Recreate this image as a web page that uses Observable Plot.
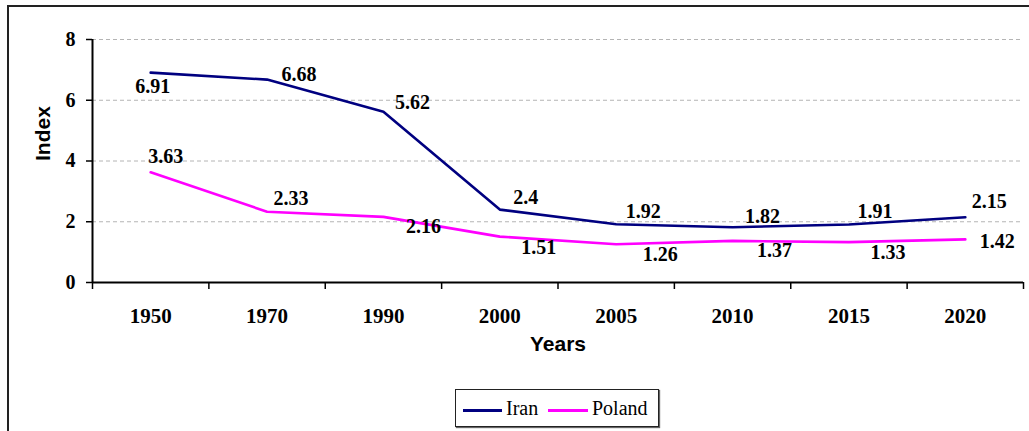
<!DOCTYPE html>
<html>
<head>
<meta charset="utf-8">
<script src="https://cdn.jsdelivr.net/npm/d3@7"></script>
<script src="https://cdn.jsdelivr.net/npm/@observablehq/plot@0.6"></script>
<style>
  html, body { margin: 0; padding: 0; background: #fff; }
  #wrap { position: relative; width: 1029px; height: 431px; overflow: hidden; background: #fff; }
  #frame { position: absolute; left: 7px; top: 5px; width: 1100px; height: 500px;
           border-left: 2px solid #222; border-top: 2px solid #222; box-sizing: border-box; }
  #chart { position: absolute; left: 0; top: 0; }
  #legend { position: absolute; left: 455px; top: 389px; width: 204px; height: 38px; box-sizing: border-box;
            border: 1.5px solid #222; box-shadow: 1px 1px 1px #666; background: #fff;
            font-family: "Liberation Serif", "Times New Roman", serif; font-size: 20px; color: #000; }
  .sw { position: absolute; top: 19px; height: 3px; }
  .lt { position: absolute; top: 7px; line-height: 22px; }
</style>
</head>
<body>
<div id="wrap">
  <div id="frame"></div>
  <div id="chart"></div>
  <div id="legend"></div>
</div>
<script>
// ---- data ----
const years = ["1950", "1970", "1990", "2000", "2005", "2010", "2015", "2020"];
const iran = [6.91, 6.68, 5.62, 2.4, 1.92, 1.82, 1.91, 2.15];
const poland = [3.63, 2.33, 2.16, 1.51, 1.26, 1.37, 1.33, 1.42];
const yTicks = [0, 2, 4, 6, 8];
const seriesNames = ["Iran", "Poland"];
const seriesColors = ["#000080", "#ff00ff"];

// ---- label placement (layout only) ----
const iranDx = [2, 32, 29, 26, 27, 30, 26, 24];
const iranDy = [14, -5, -9, -12, -13, -11, -13, -16];
const polDx = [15, 24, 40, 39, 44, 42, 39, 32];
const polDy = [-16, -13, 10, 11, 10, 10, 10, 2];

const serif = "'Liberation Serif', 'Times New Roman', serif";
const sans = "'Liberation Sans', Arial, sans-serif";

const rows = (vals) => vals.map((v, i) => ({i: i + 0.5, v, year: years[i]}));
const iranRows = rows(iran);
const polRows = rows(poland);

function labelMarks(rs, dxs, dys) {
  return rs.map((r, k) => Plot.text([r], {
    x: "i", y: "v", text: d => String(d.v), dx: dxs[k], dy: dys[k],
    fontFamily: serif, fontSize: 20, fontWeight: "bold", fill: "#000"
  }));
}

const chart = Plot.plot({
  width: 1029,
  height: 431,
  marginLeft: 92,
  marginRight: 6,
  marginTop: 39,
  marginBottom: 149,
  x: {type: "linear", domain: [0, years.length], axis: null},
  y: {domain: [0, 8], axis: null},
  style: {background: "transparent", overflow: "visible"},
  marks: [
    Plot.gridY(yTicks.filter(t => t > 0), {stroke: "#b4b4b4", strokeOpacity: 1, strokeWidth: 1, strokeDasharray: "4,3"}),
    Plot.axisY({ticks: yTicks, tickSize: 6, tickPadding: 11, tickFormat: d => String(d),
      fontFamily: serif, fontSize: 20, fontWeight: "bold", fill: "#000", stroke: "#000", strokeWidth: 1.5, label: null}),
    Plot.axisX({ticks: d3.range(years.length + 1), tickSize: 7, tickFormat: () => "", stroke: "#000", strokeWidth: 1.5, label: null}),
    Plot.axisX({ticks: years.map((_, i) => i + 0.5), tickSize: 0, tickPadding: 26,
      tickFormat: d => years[Math.floor(d)], fontFamily: serif, fontSize: 21, fontWeight: "bold", fill: "#000", label: null}),
    Plot.ruleX([0], {stroke: "#000", strokeWidth: 2}),
    Plot.ruleY([0], {stroke: "#000", strokeWidth: 2}),
    Plot.line(iranRows, {x: "i", y: "v", stroke: seriesColors[0], strokeWidth: 2.6}),
    Plot.line(polRows, {x: "i", y: "v", stroke: seriesColors[1], strokeWidth: 2.6}),
    ...labelMarks(iranRows, iranDx, iranDy),
    ...labelMarks(polRows, polDx, polDy),
    Plot.text(["Years"], {frameAnchor: "bottom", dy: 68, text: d => d, fontFamily: sans, fontSize: 21, fontWeight: "bold", fill: "#000"}),
    Plot.text(["Index"], {frameAnchor: "left", dx: -49, rotate: -90, text: d => d, fontFamily: sans, fontSize: 21, fontWeight: "bold", fill: "#000"})
  ]
});
document.getElementById("chart").appendChild(chart);

// ---- legend ----
const legend = document.getElementById("legend");
const legendLayout = [{sw: 7, sww: 39, tx: 50}, {sw: 92, sww: 40, tx: 136}];
seriesNames.forEach((name, k) => {
  const s = document.createElement("div");
  s.className = "sw";
  s.style.left = legendLayout[k].sw + "px";
  s.style.width = legendLayout[k].sww + "px";
  s.style.background = seriesColors[k];
  legend.appendChild(s);
  const t = document.createElement("div");
  t.className = "lt";
  t.style.left = legendLayout[k].tx + "px";
  t.textContent = name;
  legend.appendChild(t);
});
</script>
</body>
</html>
